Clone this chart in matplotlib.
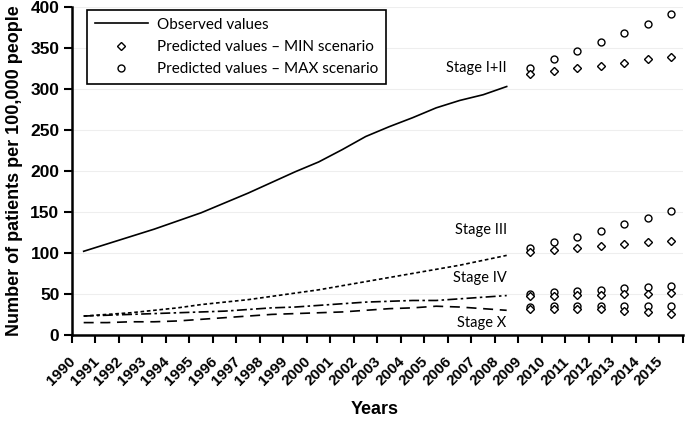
import numpy as np
import matplotlib
matplotlib.use("Agg")
import matplotlib.pyplot as plt
from matplotlib.lines import Line2D
from matplotlib.transforms import ScaledTranslation

# ── Data ──────────────────────────────────────────────────────────────────────
years = list(range(1990, 2016))
obs_years = list(range(1990, 2009))
pred_years = list(range(2009, 2016))

obs_stage_12 = [102, 111, 120, 129, 139, 149, 161, 173, 186, 199, 211,
                226, 242, 254, 265, 277, 286, 293, 303]
obs_stage_3 = [23, 25, 27, 30, 33, 37, 40, 43, 47, 51, 55,
               60, 65, 70, 75, 80, 85, 91, 97]
obs_stage_4 = [23, 24, 25, 26, 27, 28, 29, 31, 33, 34, 36,
               38, 40, 41, 42, 42, 44, 46, 48]
obs_stage_x = [15, 15, 16, 16, 17, 19, 21, 23, 25, 26, 27,
               28, 30, 32, 33, 35, 34, 32, 30]

min_stage_12 = [318, 322, 325, 328, 332, 336, 339]
max_stage_12 = [325, 337, 346, 357, 368, 379, 391]
min_stage_3 = [101, 104, 106, 109, 111, 113, 115]
max_stage_3 = [106, 113, 120, 127, 135, 143, 151]
min_stage_4 = [47, 48, 49, 49, 50, 50, 51]
max_stage_4 = [50, 52, 54, 55, 57, 58, 60]
min_stage_x = [32, 32, 31, 31, 29, 28, 26]
max_stage_x = [34, 35, 35, 35, 35, 35, 35]

stage_labels = ["Stage I+II", "Stage III", "Stage IV", "Stage X"]
stage_label_y = [326, 128, 70, 15]

# ── Figure ────────────────────────────────────────────────────────────────────
label_font = "Lato"
bold_font = "Liberation Sans"
fig = plt.figure(figsize=(6.85, 4.25), dpi=100)
ax = fig.add_axes([0.105, 0.212, 0.892, 0.7715])

x_obs = [years.index(y) for y in obs_years]
x_pred = [years.index(y) for y in pred_years]

ax.plot(x_obs, obs_stage_12, color="black", lw=1.2, ls="-")
ax.plot(x_obs, obs_stage_3, color="black", lw=1.2, ls=(0, (2.2, 1.6)))
ax.plot(x_obs, obs_stage_4, color="black", lw=1.2, ls=(0, (6, 2, 1.5, 2)))
ax.plot(x_obs, obs_stage_x, color="black", lw=1.2, ls=(0, (6, 4)))

mk = dict(ls="none", mfc="white", mec="black", mew=1.0, ms=5)
for lo, hi in [(min_stage_12, max_stage_12), (min_stage_3, max_stage_3),
               (min_stage_4, max_stage_4), (min_stage_x, max_stage_x)]:
    ax.plot(x_pred, hi, marker="o", **mk)
    ax.plot(x_pred, lo, marker="D", **dict(mk, ms=4.2))

for txt, yv in zip(stage_labels, stage_label_y):
    ax.text(18.0, yv, txt, ha="right", va="center", fontsize=10.5,
            family=label_font)

# ── Axes ──────────────────────────────────────────────────────────────────────
ax.set_xlim(-0.5, len(years) - 0.5)
ax.set_ylim(0, 400)
ax.set_yticks(np.arange(0, 401, 50))
# tick marks sit between categories, labels near category centres
ax.set_xticks(np.arange(-0.5, len(years), 1.0))
ax.set_xticklabels([])
ax.tick_params(axis="x", which="major", length=6, width=1.5, direction="out")
ax.tick_params(axis="y", length=6, width=1.5, direction="out",
               labelsize=12.5, pad=3)
for lab in ax.get_yticklabels():
    lab.set_fontweight("bold")
    lab.set_family(bold_font)

# rotated year labels, nudged left like the Excel original
year_trans = ax.get_xaxis_transform() + ScaledTranslation(-0.10, -0.245, fig.dpi_scale_trans)
for i, yr in enumerate(years):
    ax.text(i, 0, str(yr), transform=year_trans, rotation=45,
            rotation_mode="anchor", ha="right", va="center",
            fontsize=11, fontweight="bold", family=bold_font, clip_on=False)

ax.grid(axis="y", color="#eeeeee", lw=0.8)
ax.set_axisbelow(True)
for side in ["top", "right"]:
    ax.spines[side].set_visible(False)
for side in ["left", "bottom"]:
    ax.spines[side].set_linewidth(1.8)

ax.set_ylabel("Number of patients per 100,000 people", fontsize=13,
              fontweight="bold", family=bold_font, labelpad=5)
ax.set_xlabel("Years", fontsize=13, fontweight="bold", family=bold_font,
              va="center")
ax.xaxis.set_label_coords(0.496, -0.229)

# ── Legend ────────────────────────────────────────────────────────────────────
handles = [
    Line2D([], [], color="black", lw=1.2),
    Line2D([], [], marker="D", **dict(mk, ms=4.2)),
    Line2D([], [], marker="o", **mk),
]
leg = ax.legend(handles, ["Observed values",
                          "Predicted values \u2013 MIN scenario",
                          "Predicted values \u2013 MAX scenario"],
                loc="upper left", bbox_to_anchor=(0.0245, 0.991),
                borderaxespad=0,
                prop={"family": label_font, "size": 11},
                fancybox=False, framealpha=1, edgecolor="black",
                handlelength=3.5, handletextpad=0.6, borderpad=0.5,
                labelspacing=0.55)
leg.get_frame().set_linewidth(1.2)

fig.savefig("out.png", dpi=100)
